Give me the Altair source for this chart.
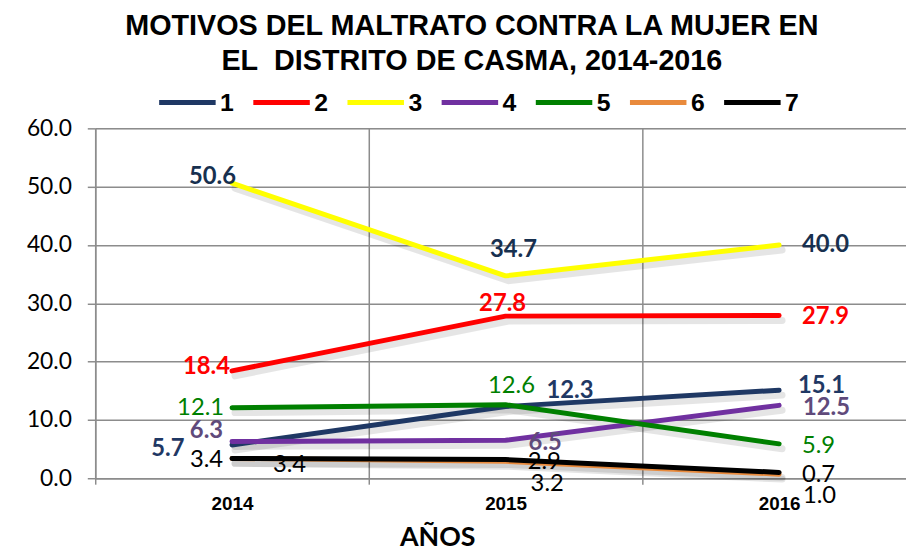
import altair as alt
import pandas as pd

# ---- data ----
YEARS = ["2014", "2015", "2016"]
SERIES = ["1", "2", "3", "4", "5", "6", "7"]
VALUES = {
    "1": [5.7, 12.3, 15.1],
    "2": [18.4, 27.8, 27.9],
    "3": [50.6, 34.7, 40.0],
    "4": [6.3, 6.5, 12.5],
    "5": [12.1, 12.6, 5.9],
    "6": [3.4, 2.9, 0.7],
    "7": [3.4, 3.2, 1.0],
}
Y_TICKS = [0, 10, 20, 30, 40, 50, 60]

# ---- styles ----
LINE_COLORS = ["#1F3864", "#FF0000", "#FFFF00", "#7030A0", "#008000", "#E98A3C", "#000000"]
LABEL_STYLE = {
    "1": ("#1F3864", "bold"),
    "2": ("#FF0000", "bold"),
    "3": ("#17304F", "bold"),
    "4": ("#604A7B", "bold"),
    "5": ("#008000", "normal"),
    "6": ("#000000", "normal"),
    "7": ("#000000", "normal"),
}
# label placement offsets (dx, dy, align) around each point
LABEL_OFFSETS = {
    ("3", "2014"): (4, -6, "right"),
    ("2", "2014"): (-2, -4, "right"),
    ("5", "2014"): (-8, 0, "right"),
    ("4", "2014"): (-9, -11, "right"),
    ("1", "2014"): (-48, 4, "right"),
    ("6", "2014"): (-9, 2, "right"),
    ("7", "2014"): (58, 7, "center"),
    ("3", "2015"): (8, -26, "center"),
    ("2", "2015"): (-3, -12, "center"),
    ("5", "2015"): (6, -19, "center"),
    ("1", "2015"): (65, -16, "center"),
    ("4", "2015"): (40, 3, "center"),
    ("6", "2015"): (39, 1, "center"),
    ("7", "2015"): (42, 25, "center"),
    ("3", "2016"): (23, 0, "left"),
    ("2", "2016"): (23, 2, "left"),
    ("1", "2016"): (19, -4, "left"),
    ("4", "2016"): (24, 3, "left"),
    ("5", "2016"): (23, 2, "left"),
    ("6", "2016"): (23, 1, "left"),
    ("7", "2016"): (24, 24, "left"),
}

rows = []
for s in SERIES:
    for yr, v in zip(YEARS, VALUES[s]):
        rows.append({"serie": s, "year": yr, "value": v})
df = pd.DataFrame(rows)

GRID = "#8C8C8C"
LABEL_FONT = "Lato"

x_enc = alt.X(
    "year:N",
    sort=YEARS,
    scale=alt.Scale(type="band", paddingInner=0, paddingOuter=0, range=[0, 828]),
    axis=alt.Axis(
        title="AÑOS",
        titleFont=LABEL_FONT, titleFontSize=27, titleFontWeight="bold", titleColor="#000",
        titleX=345, titleY=68, titleAlign="center", titleBaseline="alphabetic",
        labelFont="Liberation Sans", labelFontSize=19, labelFontWeight="bold", labelColor="#000",
        labelAngle=0, labelPadding=11,
        tickBand="extent", tickSize=6, tickColor=GRID, tickWidth=1.5,
        domainColor=GRID, domainWidth=1.5,
        grid=True, gridColor=GRID, gridWidth=1.5,
    ),
)
y_enc = alt.Y(
    "value:Q",
    scale=alt.Scale(domain=[0, 60], nice=False, zero=True),
    axis=alt.Axis(
        title=None, values=Y_TICKS, format=".1f",
        labelFont=LABEL_FONT, labelFontSize=23, labelColor="#000", labelPadding=16,
        tickSize=8, tickColor=GRID, tickWidth=1.5,
        domainColor=GRID, domainWidth=1.5,
        grid=True, gridColor=GRID, gridWidth=1.5,
    ),
)

base = alt.Chart(df)

shadow = base.mark_line(
    strokeWidth=7, color="#000000", opacity=0.10, xOffset=3, yOffset=5, strokeCap="round"
).encode(x=x_enc, y=y_enc, detail="serie:N")

lines = base.mark_line(strokeWidth=5, strokeCap="round", strokeJoin="round").encode(
    x=x_enc,
    y=y_enc,
    color=alt.Color(
        "serie:N",
        sort=SERIES,
        scale=alt.Scale(domain=SERIES, range=LINE_COLORS),
        legend=alt.Legend(
            title=None, orient="none", legendX=62, legendY=-57,
            direction="horizontal", columns=7, columnPadding=9,
            symbolType="stroke", symbolSize=3249, symbolStrokeWidth=5,
            labelFont="Liberation Sans", labelFontSize=25, labelFontWeight="bold",
            labelColor="#000", labelOffset=2,
        ),
    ),
    order=alt.Order("year:N"),
)

label_layers = []
for (s, yr), (dx, dy, al) in LABEL_OFFSETS.items():
    col, wt = LABEL_STYLE[s]
    label_layers.append(
        base.transform_filter(
            (alt.datum.serie == s) & (alt.datum.year == yr)
        ).mark_text(
            dx=dx, dy=dy, align=al, baseline="middle",
            font=LABEL_FONT, fontSize=24, fontWeight=wt, color=col,
        ).encode(x=x_enc, y=y_enc, text=alt.Text("value:Q", format=".1f"))
    )

chart = alt.layer(shadow, lines, *label_layers).properties(
    width=818,
    height=353,
    title=alt.TitleParams(
        text=["MOTIVOS DEL MALTRATO CONTRA LA MUJER EN", "EL\u00a0 DISTRITO DE CASMA, 2014-2016"],
        font="Liberation Sans", fontSize=29, fontWeight="bold", color="#000",
        anchor="middle", frame="group", dx=-29, dy=4, lineHeight=35, offset=0,
    ),
    autosize=alt.AutoSizeParams(type="none"),
    padding={"left": 88, "top": 119, "right": 0, "bottom": 72},
).configure_view(stroke=None).configure(background="white")

chart.save("out.html", embed_options={"renderer": "svg", "actions": False})
